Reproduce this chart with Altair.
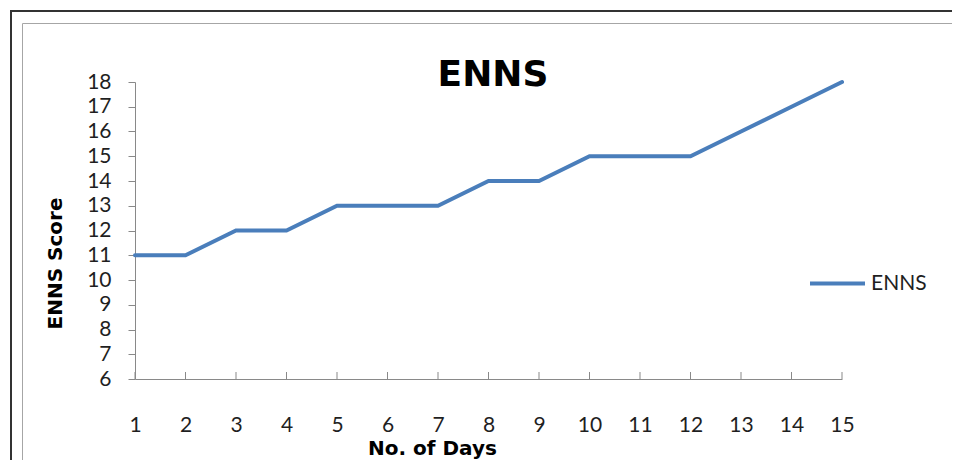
import altair as alt
import pandas as pd

days = list(range(1, 16))
scores = [11, 11, 12, 12, 13, 13, 13, 14, 14, 15, 15, 15, 16, 17, 18]
series_name = "ENNS"

df = pd.DataFrame({"day": days, "score": scores, "series": [series_name] * len(days)})

W, H = 707, 297
FONT = "Lato"
BOLD_FONT = "DejaVu Sans"
AXIS_GRAY = "#898989"

base = alt.Chart(df)

line = base.mark_line(strokeWidth=4, strokeCap="round").encode(
    x=alt.X("day:Q", scale=alt.Scale(domain=[1, 15], nice=False, zero=False),
            axis=alt.Axis(values=days, ticks=False, grid=False, domainColor=AXIS_GRAY,
                          labelFontSize=21, labelFont=FONT, labelColor="#1f1f1f",
                          labelPadding=46, labelBaseline="middle", labelFlush=False,
                          title="No. of Days", titleFont=BOLD_FONT, titleFontSize=20,
                          titleFontWeight="bold", titleColor="#000",
                          titleX=297, titleY=75, titleBaseline="alphabetic")),
    y=alt.Y("score:Q", scale=alt.Scale(domain=[6, 18], nice=False, zero=False),
            axis=alt.Axis(values=list(range(6, 19)), grid=False, domainColor=AXIS_GRAY,
                          tickColor=AXIS_GRAY, tickSize=7,
                          labelFontSize=21, labelFont=FONT, labelColor="#1f1f1f",
                          labelPadding=17, labelBaseline="middle", labelFlush=False,
                          title="ENNS Score", titleFont=BOLD_FONT, titleFontSize=20,
                          titleFontWeight="bold", titleColor="#000",
                          titleX=-80, titleY=181, titleBaseline="middle", titleAngle=-90)),
    color=alt.Color("series:N", scale=alt.Scale(range=["#4A7EBB"]),
                    legend=alt.Legend(orient="none", legendX=673, legendY=172,
                                      title=None, symbolType="stroke", symbolSize=3025,
                                      symbolStrokeWidth=4, labelFontSize=21, labelFont=FONT,
                                      labelColor="#1f1f1f", labelOffset=4)),
)

xticks = base.mark_rule(color=AXIS_GRAY, strokeWidth=1).encode(
    x="day:Q", y=alt.value(H - 7), y2=alt.value(H)
)

one = alt.Chart(pd.DataFrame({"a": [0]}))
RIGHT = 830
outer_top = one.mark_rule(color="#333333", strokeWidth=2).encode(
    x=alt.value(-125), x2=alt.value(RIGHT), y=alt.value(-71))
outer_left = one.mark_rule(color="#333333", strokeWidth=2).encode(
    x=alt.value(-124), y=alt.value(-72), y2=alt.value(400))
inner_top = one.mark_rule(color="#a6a6a6", strokeWidth=1).encode(
    x=alt.value(-112.5), x2=alt.value(RIGHT), y=alt.value(-58.5))
inner_left = one.mark_rule(color="#a6a6a6", strokeWidth=1).encode(
    x=alt.value(-112.5), y=alt.value(-58.5), y2=alt.value(380))
inner_bottom = one.mark_rule(color="#a6a6a6", strokeWidth=1).encode(
    x=alt.value(-112.5), x2=alt.value(RIGHT), y=alt.value(379.5))
title = one.mark_text(text="ENNS", font=BOLD_FONT, fontSize=36, fontWeight="bold",
                      color="#000", align="center", baseline="middle").encode(
    x=alt.value(358), y=alt.value(-7)
)

chart = alt.layer(outer_top, outer_left, inner_top, inner_left, inner_bottom,
                  xticks, line, title).properties(
    width=W, height=H,
    autosize=alt.AutoSizeParams(type="none"),
    padding={"left": 127, "top": 74, "right": 110, "bottom": 81},
).configure_view(stroke=None).configure_axis(domainWidth=1)

chart.save("out.html", embed_options={"renderer": "svg", "actions": False})
